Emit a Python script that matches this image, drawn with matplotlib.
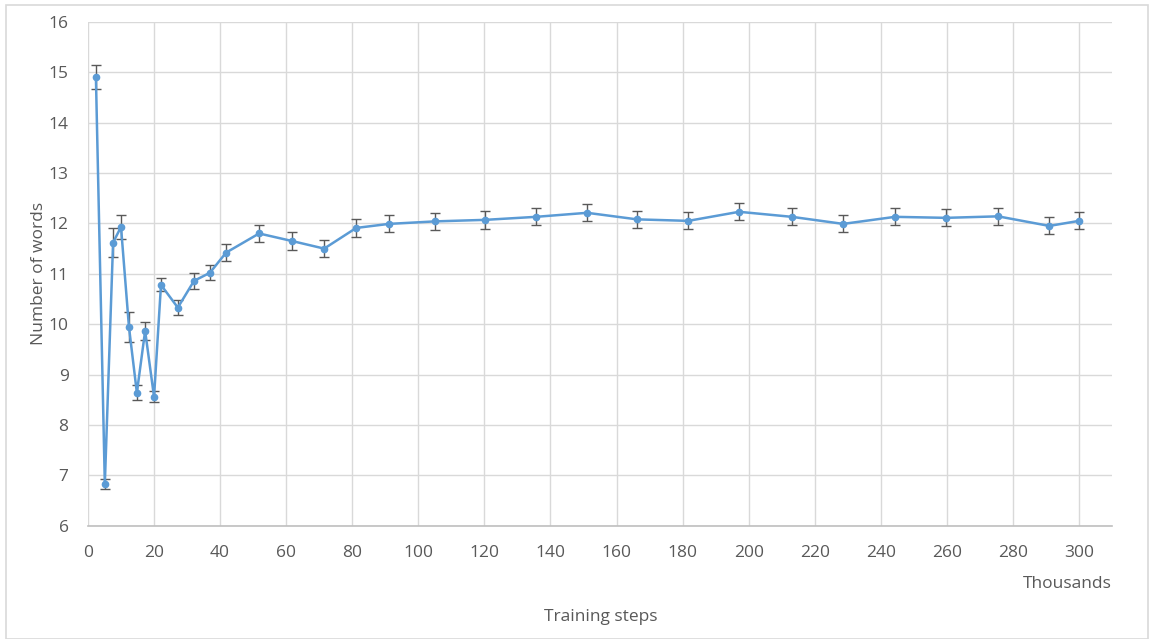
import numpy as np
import matplotlib.pyplot as plt
from matplotlib.patches import Rectangle

# training steps (thousands), mean number of words, error half-width
steps = [2.4, 5.1, 7.6, 10.0, 12.4, 14.8, 17.3, 20.0, 22.1, 27.2, 32.1, 36.9,
         41.8, 51.8, 61.8, 71.5, 81.2, 91.1, 105.1, 120.2, 135.6, 151.1,
         166.2, 181.7, 197.1, 213.1, 228.6, 244.3, 259.8, 275.5, 291.0, 300.0]
words = [14.91, 6.83, 11.62, 11.93, 9.95, 8.64, 9.87, 8.56, 10.78, 10.33,
         10.86, 11.02, 11.42, 11.80, 11.65, 11.50, 11.91, 11.99, 12.04, 12.07,
         12.13, 12.21, 12.08, 12.05, 12.23, 12.13, 11.99, 12.13, 12.11, 12.14,
         11.95, 12.05]
err = [0.24, 0.10, 0.28, 0.24, 0.30, 0.15, 0.18, 0.11, 0.13, 0.15, 0.16, 0.15,
       0.17, 0.17, 0.17, 0.17, 0.17, 0.17, 0.17, 0.18, 0.17, 0.17, 0.17, 0.17,
       0.17, 0.17, 0.17, 0.17, 0.17, 0.17, 0.17, 0.17]

x_ticks = np.arange(0, 301, 20)
y_ticks = np.arange(6, 17, 1)

plt.rcParams['font.family'] = ['Open Sans', 'DejaVu Sans']
txt = '#595959'

fig = plt.figure(figsize=(11.5, 6.39), dpi=100)
# light chart-area frame, slightly inset like the reference
fig.add_artist(Rectangle((6 / 1150, 0), 1 - 8 / 1150, 1 - 5 / 639,
                         transform=fig.transFigure, fill=False,
                         edgecolor='#D9D9D9', lw=1.2))
ax = fig.add_axes([0.0765, 0.177, 0.8905, 0.789])

ax.errorbar(steps, words, yerr=err, color='#5B9BD5', lw=1.8, marker='o',
            ms=4.5, ecolor='#595959', elinewidth=1.0, capsize=3.5,
            capthick=1.0, zorder=3)

ax.set_xlim(0, 310)
ax.set_ylim(6, 16)
ax.set_xticks(x_ticks)
ax.set_yticks(y_ticks)
ax.grid(True, color='#D9D9D9', lw=1.0)
ax.set_axisbelow(True)
for s in ('top', 'right', 'left'):
    ax.spines[s].set_visible(False)
ax.spines['bottom'].set_color('#BFBFBF')
ax.spines['bottom'].set_linewidth(1.2)
ax.tick_params(length=0, labelsize=12.5, colors=txt, pad=14)

ax.set_ylabel('Number of words', fontsize=12.5, color=txt, labelpad=1)
ax.text(1.0, -0.115, 'Thousands', transform=ax.transAxes, ha='right',
        va='center', fontsize=12.5, color=txt)
fig.text(0.522, 0.034, 'Training steps', ha='center', va='center',
         fontsize=12.5, color=txt)

fig.savefig('out.png', dpi=100)
